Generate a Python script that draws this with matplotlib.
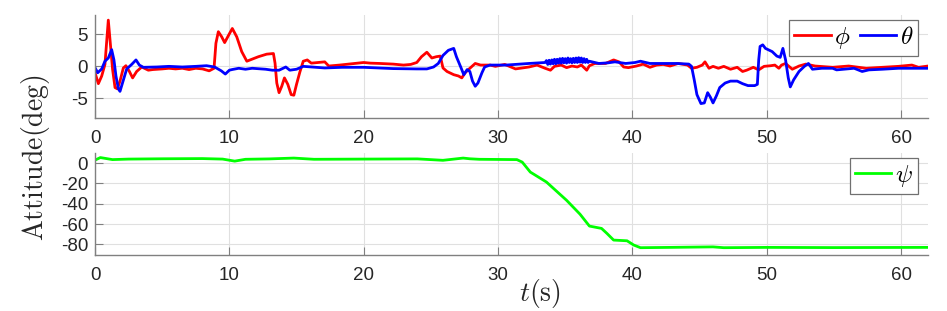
import numpy as np
import matplotlib
matplotlib.use("Agg")
import matplotlib.pyplot as plt
from matplotlib.ticker import FixedLocator, FixedFormatter

plt.rcParams['font.family'] = ['Liberation Sans', 'DejaVu Sans']
plt.rcParams['mathtext.fontset'] = 'cm'

# ---------------- data ----------------
t_phi = [0, 0.25, 0.5, 0.74, 0.86, 0.99, 1.14, 1.31, 1.49, 1.66, 1.86, 2.11, 2.3, 2.56, 2.8, 3.1,
         3.48, 3.97, 4.3, 5.0, 5.5, 6.0, 6.5, 7.0, 7.5, 8.0, 8.5, 8.86, 9.0, 9.18, 9.43, 9.65, 9.93,
         10.22, 10.55, 10.92, 11.3, 11.66, 12.16, 12.78, 13.28, 13.4, 13.53, 13.7, 13.9, 14.1, 14.35,
         14.6, 14.8, 15.0, 15.26, 15.5, 15.8, 16.1, 16.6, 17.1, 17.4, 18.2, 19.1, 20.0, 20.5, 21.2,
         22.2, 22.96, 23.5, 23.95, 24.3, 24.7, 25.07, 25.4, 25.7, 25.9, 26.2, 26.7, 27.05, 27.3,
         27.55, 27.9, 28.3, 28.7, 29.4, 29.8, 30.5, 31.3, 32.3, 32.9, 33.5, 33.9, 34.2, 34.7, 35.1,
         35.5, 35.9, 36.2, 36.6, 36.8, 37.2, 38.0, 38.6, 39.0, 39.35, 39.7, 40.3, 40.8, 41.3, 41.8,
         42.3, 42.8, 43.4, 44.1, 44.4, 44.8, 45.2, 45.4, 45.7, 46.0, 46.4, 46.8, 47.3, 47.8, 48.2,
         48.5, 49.0, 49.4, 49.8, 50.3, 50.6, 50.9, 51.1, 51.4, 51.9, 52.4, 52.9, 53.6, 54.9, 56.1,
         57.4, 58.6, 59.8, 60.8, 61.3, 62.0]
phi = [-1.0, -2.7, -1.5, 0.3, 3.6, 7.2, 3.6, -0.5, -3.3, -3.5, -2.3, -0.25, 0.1, -0.8, -1.8, -0.8,
       -0.1, -0.6, -0.5, -0.4, -0.3, -0.4, -0.3, -0.5, -0.3, -0.4, -0.7, -0.3, 3.6, 5.4, 4.6, 3.7, 4.8,
       5.9, 4.6, 2.3, 0.8, 1.1, 1.5, 1.9, 2.0, 0.5, -2.6, -4.1, -3.1, -1.8, -2.8,
       -4.4, -4.5, -2.8, -0.8, 0.8, 1.0, 0.5, 0.6, 0.7, 0.05, 0.2, 0.4, 0.6, 0.5, 0.45,
       0.35, 0.2, 0.3, 0.6, 1.5, 2.2, 1.3, 1.5, 1.6, -0.25, -0.8, -1.3, -1.5, -1.8,
       -1.0, -0.3, 0.45, 0.2, 0.2, 0.0, 0.3, -0.4, -0.1, 0.2, -0.3, -0.6, 0.0, 0.2, -0.2,
       0.05, -0.1, 0.2, -0.6, 0.1, 0.45, 0.45, 1.0, 0.7, -0.1, -0.2, 0.05, 0.35, -0.15, 0.2,
       0.3, 0.05, 0.45, 0.2, -0.3, -0.15, 0.2, 0.7, -0.3, 0.0, -0.3, 0.0, -0.45, -0.15, -0.8,
       -0.6, -0.15, -0.55, 0.0, 0.1, 0.2, -0.3, 0.2, 0.45, -0.45, 0.05, 0.35, 0.05, -0.15, 0.05,
       -0.3, -0.15, 0.0, 0.2, -0.15, 0.05]

t_theta = [0, 0.2, 0.5, 0.74, 0.99, 1.24, 1.41, 1.56, 1.74, 1.86, 2.06, 2.36, 2.73, 3.05, 3.3, 3.6,
           4.6, 5.5, 6.5, 7.5, 8.3, 8.9, 9.4, 9.7, 10.0, 10.2, 10.7, 11.2, 11.7, 12.7, 13.2, 13.7,
           14.2, 14.5, 15.0, 15.5, 16.1, 17.1, 18.4, 20.0, 22.2, 23.95, 24.7, 25.2, 25.55, 25.9,
           26.3, 26.7, 26.9, 27.2, 27.45, 27.7, 27.9, 28.1, 28.3, 28.5, 28.8, 29.0, 29.4, 30.6,
           32.3, 33.5, 33.6, 33.7, 33.8, 33.9, 34.0, 34.1, 34.2, 34.3, 34.4, 34.5, 34.6, 34.7,
           34.8, 34.9, 35.0, 35.1, 35.2, 35.3, 35.4, 35.5, 35.6, 35.7, 35.8, 35.9, 36.0, 36.1,
           36.2, 36.3, 36.4, 36.5, 36.6, 36.7, 36.8, 37.5, 38.2, 38.7, 39.5, 40.2, 40.6, 41.3,
           42.3, 43.3, 44.2,
           44.4, 44.6, 44.8, 45.1, 45.35, 45.6, 45.8, 46.0, 46.25, 46.5, 46.9, 47.3, 47.8, 48.2,
           48.6, 49.1, 49.3, 49.4, 49.5, 49.7, 49.9, 50.4, 50.75, 51.0, 51.2, 51.4, 51.6, 51.75,
           52.0, 52.4, 52.8, 53.1, 53.4, 54.1, 54.9, 55.2, 56.5, 57.1, 57.6, 58.6, 59.8, 62.0]
theta = [-0.2, -1.0, -0.4, 0.8, 1.3, 2.6, 1.0, -1.5, -3.5, -3.9, -2.5, -0.4, 0.3, 1.0, 0.2, -0.15,
         -0.1, 0.0, -0.1, 0.0, 0.1, -0.1, -0.7, -1.2, -0.6, -0.5, -0.3, -0.45, -0.3, -0.45, -0.6, -0.6,
         -0.1, -0.6, -0.45, 0.0, -0.1, -0.25, -0.15, -0.15, -0.35, -0.4, -0.4, -0.1, 0.45, 1.7,
         2.5, 2.8, 1.5, 0.0, -1.3, -0.5, -0.8, -2.3, -3.1, -2.6, -1.0, -0.1, 0.2, 0.2,
         0.45, 0.6, 0.9, 0.3, 0.95, 0.35, 1.0, 0.4, 1.1, 0.4, 1.1, 0.5, 1.2, 0.5,
         1.25, 0.55, 1.2, 0.5, 1.3, 0.6, 1.2, 0.55, 1.25, 0.6, 1.3, 0.6, 1.35, 0.65,
         1.3, 0.6, 1.2, 0.6, 1.1, 0.6, 0.8, 0.45, 0.55, 0.7, 0.45, 0.6, 0.8, 0.45,
         0.45, 0.45, 0.35,
         0.0, -2.1, -4.4, -5.8, -5.7, -4.1, -4.8, -5.7, -4.6, -3.3, -2.6, -2.3, -2.3, -2.7,
         -3.0, -3.0, -2.8, 1.0, 3.1, 3.35, 2.8, 2.3, 1.6, 1.4, 2.8, 1.0, -1.8, -3.2,
         -2.1, -0.8, 0.0, 0.45, -0.45, -0.3, -0.3, -0.55, -0.3, -0.8, -0.55, -0.45, -0.3, -0.3]

t_psi = [0, 0.4, 1.3, 2.5, 5.0, 8.0, 9.5, 10.4, 11.2, 13.0, 14.8, 16.3, 20.0, 24.0, 25.9, 27.4,
         27.9, 28.6, 31.4, 31.8, 32.4, 33.6, 35.1, 36.1, 36.8, 37.7, 38.1, 38.6, 39.6, 40.1, 40.6,
         42.8, 46.0, 46.8, 50.0, 55.0, 62.0]
psi = [3.0, 5.5, 3.5, 4.0, 4.3, 4.5, 4.0, 2.0, 3.8, 4.2, 5.0, 3.8, 4.0, 4.2, 2.8, 5.0,
       4.3, 3.8, 3.5, 1.0, -8.8, -18.6, -36.6, -50.3, -62.0, -64.3, -69.2, -75.8, -76.5, -80.7, -83.3,
       -83.0, -82.5, -83.3, -83.0, -83.2, -83.0]

x_ticks = [0, 10, 20, 30, 40, 50, 60]
top_yticks = [5, 0, -5]
top_ylabels = ['5', '0', '-5']
bot_yticks = [0, -20, -40, -60, -80]
bot_ylabels = ['0', '-20', '-40', '-60', '-80']

# ---------------- figure ----------------
W, H = 947, 311
fig = plt.figure(figsize=(W / 100, H / 100), dpi=100)

def px_axes(x0, y0, x1, y1):
    return fig.add_axes([x0 / W, 1 - y1 / H, (x1 - x0) / W, (y1 - y0) / H])

ax1 = px_axes(95, 15, 928, 117.7)
ax2 = px_axes(95, 153, 928, 255)

tick_color = '#262626'
spine_color = '#808080'

def style(ax, yt, yl, ylim):
    ax.set_xlim(0, 62)
    ax.set_ylim(*ylim)
    ax.xaxis.set_major_locator(FixedLocator(x_ticks))
    ax.xaxis.set_major_formatter(FixedFormatter([str(v) for v in x_ticks]))
    ax.yaxis.set_major_locator(FixedLocator(yt))
    ax.yaxis.set_major_formatter(FixedFormatter(yl))
    for s in ['top', 'right']:
        ax.spines[s].set_visible(False)
    for s in ['left', 'bottom']:
        ax.spines[s].set_color(spine_color)
        ax.spines[s].set_linewidth(1.0)
    ax.tick_params(direction='in', length=5.5, width=0.8, color=spine_color,
                   labelsize=13.5, labelcolor=tick_color)
    ax.tick_params(axis='x', pad=9)
    ax.tick_params(axis='y', pad=5)
    ax.grid(True, color='#e0e0e0', linewidth=0.8)
    ax.set_axisbelow(True)

style(ax1, top_yticks, top_ylabels, (-8, 8))
style(ax2, bot_yticks, bot_ylabels, (-90.5, 10))

ax1.plot(t_phi, phi, color='#ff0000', lw=2.0, label=r'$\phi$')
ax1.plot(t_theta, theta, color='#0000ff', lw=2.0, label=r'$\theta$')
ax2.plot(t_psi, psi, color='#00ff00', lw=2.0, label=r'$\psi$')

leg_kw = dict(frameon=True, fancybox=False, framealpha=1, edgecolor='#707070',
              fontsize=18, handlelength=1.45, handletextpad=0.15, borderpad=0.2,
              borderaxespad=0.0, columnspacing=0.35)
l1 = ax1.legend(ncol=2, loc='upper right', bbox_to_anchor=((918 - 95) / (928 - 95), 1 - (20 - 15) / 102.7), **leg_kw)
l2 = ax2.legend(loc='upper right', bbox_to_anchor=((918 - 95) / (928 - 95), 1 - (158 - 153) / 102), **leg_kw)
for l in (l1, l2):
    l.get_frame().set_linewidth(0.9)

fig.text(35 / W, 1 - 158 / H, r'$\mathrm{Attitude(deg)}$', rotation=90,
         ha='center', va='center', fontsize=20, color='#262626')
fig.text(540 / W, 1 - 293 / H, r'$t(\mathrm{s})$', ha='center', va='center',
         fontsize=20, color='#262626')

fig.savefig('out.png', dpi=100)
